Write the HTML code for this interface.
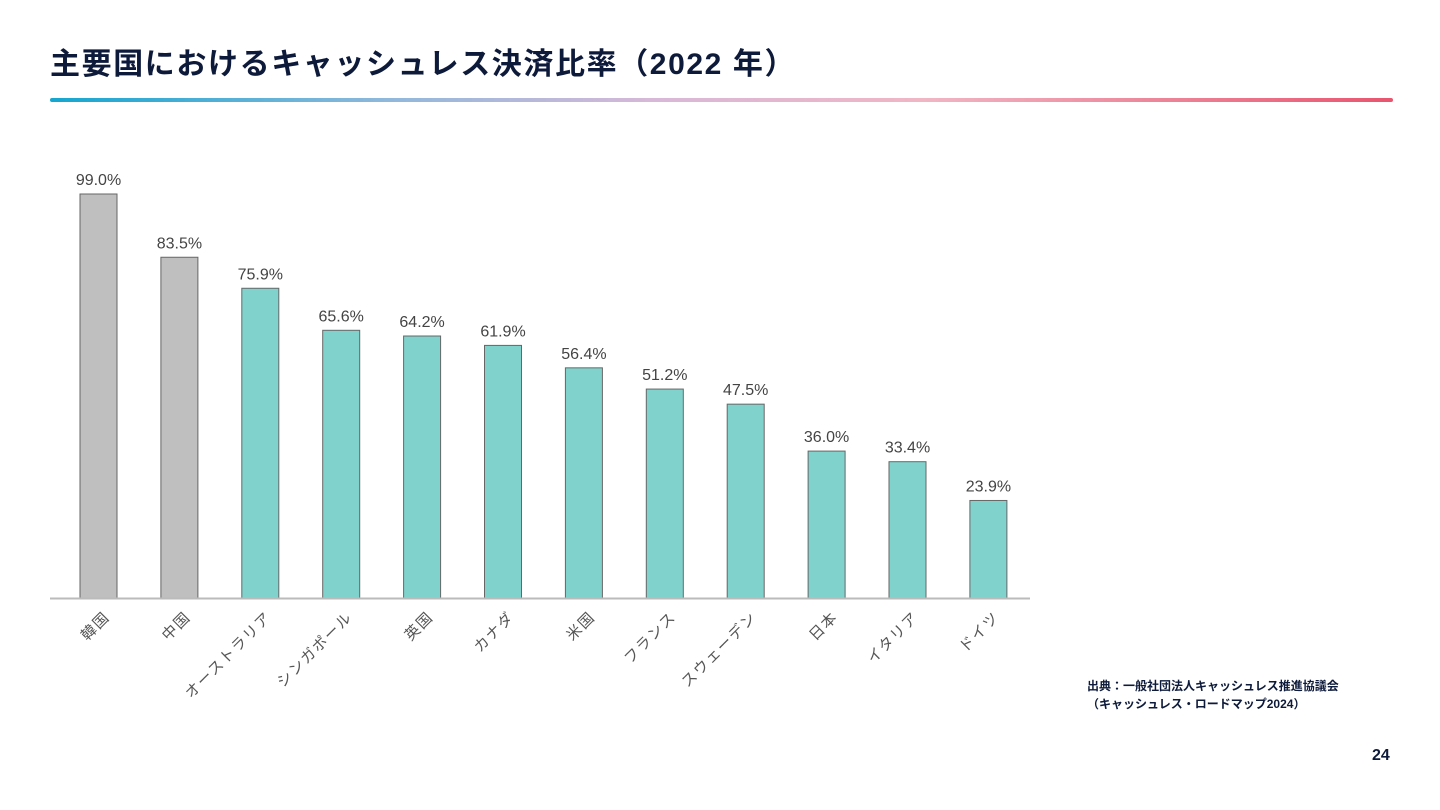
<!DOCTYPE html>
<html><head><meta charset="utf-8">
<style>
body{margin:0;width:1440px;height:810px;background:#fff;overflow:hidden;font-family:"Liberation Sans","Noto Sans CJK JP",sans-serif;position:relative}
#title{position:absolute;left:50px;top:39px;font-size:30px;font-weight:bold;color:#0d1a3a;letter-spacing:1.6px;white-space:nowrap}
#rule{position:absolute;left:50px;top:98px;width:1343px;height:4px;border-radius:2px;background:linear-gradient(90deg,#14a6d0 0%,#8fb8db 25%,#d8b8d8 45%,#f0b6c4 65%,#e8556e 100%)}
#src{position:absolute;left:1087px;top:677px;font-size:12px;font-weight:bold;color:#0d1a3a;line-height:18px}
#page{position:absolute;left:1372px;top:747px;font-size:16px;font-weight:bold;color:#0d1a3a}
svg{position:absolute;left:0;top:0}
</style></head><body>
<div id="title">主要国におけるキャッシュレス決済比率（2022 年）</div>
<div id="rule"></div>
<svg id="chart" width="1440" height="810"></svg>
<div id="src">出典：一般社団法人キャッシュレス推進協議会<br>（キャッシュレス・ロードマップ2024）</div>
<div id="page">24</div>
<script>
const categories=["韓国","中国","オーストラリア","シンガポール","英国","カナダ","米国","フランス","スウェーデン","日本","イタリア","ドイツ"];
const values=[99.0,83.5,75.9,65.6,64.2,61.9,56.4,51.2,47.5,36.0,33.4,23.9];
const highlight=[true,true,false,false,false,false,false,false,false,false,false,false];
const NS="http://www.w3.org/2000/svg";
const svg=document.getElementById('chart');
const base=598, pxPer=404/99, x0=98.5, step=80.9, bw=37;
const yS=v=>base-v*pxPer;
const xS=i=>x0+i*step;
function mk(t,a){const e=document.createElementNS(NS,t);for(const k in a)e.setAttribute(k,a[k]);svg.appendChild(e);return e;}
categories.forEach((c,i)=>{
  const cx=xS(i),y=yS(values[i]);
  const r=mk('rect',{x:cx-bw/2,y:y,width:bw,height:base-y,fill:highlight[i]?'#bfbfbf':'#80d3cd',stroke:'#666','stroke-width':1});
  
  
  const t=mk('text',{x:cx,y:y-9,'text-anchor':'middle','font-size':16,fill:'#444'});
  t.textContent=values[i].toFixed(1)+'%';
  
  
  const l=mk('text',{x:0,y:0,'text-anchor':'end','font-size':15,'letter-spacing':1.5,fill:'#555',transform:`translate(${cx+12},${618}) rotate(-45)`});
  l.textContent=c;
  
  
});
const ax=mk('line',{x1:50,x2:1030,y1:base+0.5,y2:base+0.5,stroke:'#bbb','stroke-width':2});


</script>
</body></html>
